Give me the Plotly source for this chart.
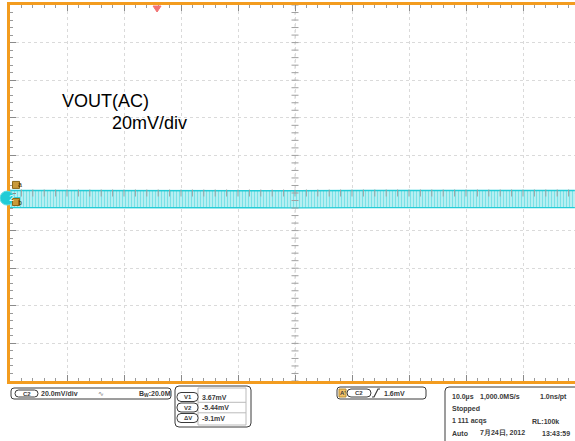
import plotly.graph_objects as go
import numpy as np

W, H = 575, 441

time_us = [-50, -37.5, -25, -12.5, 0, 12.5, 25, 37.5, 49.1]
upper_mV = [1.3, 1.2, 1.3, 1.3, 1.2, 1.3, 1.2, 1.3, 1.3]
lower_mV = [-7.8, -7.9, -7.8, -7.8, -7.9, -7.8, -7.8, -7.9, -7.8]
cursor_labels = ["a", "b"]
cursor_screen_mV = [4.3, -4.8]
trigger_time_us = -24.2
ch2_ground_mV = -2.7

title_lines = ["VOUT(AC)", "20mV/div"]
ch_readout = ["C2", "20.0mV/div", "B<sub>W</sub>:20.0M"]
cursor_names = ["V1", "V2", "ΔV"]
cursor_values = ["3.67mV", "-5.44mV", "-9.1mV"]
trig_readout = ["A'", "C2", "1.6mV"]
acq_rows = [
    [("10.0µs", 450), ("1,000.0MS/s", 478), ("1.0ns/pt", 538)],
    [("Stopped", 450)],
    [("1 111 acqs", 450), ("RL:100k", 530)],
    [("Auto", 450), ("7月24日, 2012", 478), ("13:43:59", 540)],
]

# ---------------- geometry helpers ----------------
X_LEFT, X_CENTER, DIV_X = 10, 295, 57.0
Y_TOP, Y_BOT = 5, 381
US_PER_DIV, MV_PER_DIV = 10, 20
x_range = [-(X_CENTER - X_LEFT) / DIV_X * US_PER_DIV, (W - X_CENTER) / DIV_X * US_PER_DIV]
y_range = [-5 * MV_PER_DIV, 5 * MV_PER_DIV]


def px(x):
    return x / W


def py(y):
    return 1 - y / H


ORANGE = "#F39C1F"
CYAN = "#22CCD6"
GRID = "#DADADA"
DARK = "#3A3A3A"
FONT = "Liberation Sans, Arial, sans-serif"

fig = go.Figure()

# waveform band
fig.add_trace(go.Scatter(x=time_us, y=lower_mV, mode="lines",
                         line=dict(color=CYAN, width=1.4), hoverinfo="skip"))
fig.add_trace(go.Scatter(x=time_us, y=upper_mV, mode="lines", fill="tonexty",
                         fillcolor="rgba(170,238,242,0.6)",
                         fillpattern=dict(shape="|", fgcolor=CYAN, bgcolor="#D2F6F7",
                                          size=3, solidity=0.55),
                         line=dict(color=CYAN, width=1.4), hoverinfo="skip"))

# centre crosshair tick marks
xt = np.arange(x_range[0], x_range[1] + 0.01, US_PER_DIV / 5)
yt = np.arange(y_range[0], y_range[1] + 0.01, MV_PER_DIV / 5)
fig.add_trace(go.Scatter(x=xt, y=[0] * len(xt), mode="markers",
                         marker=dict(symbol="line-ns", size=5, line=dict(color="#A0A0A0", width=1)),
                         hoverinfo="skip"))
fig.add_trace(go.Scatter(x=[0] * len(yt), y=yt, mode="markers",
                         marker=dict(symbol="line-ew", size=5, line=dict(color="#A0A0A0", width=1)),
                         hoverinfo="skip"))

shapes = []
ann = []

# centre crosshair lines
shapes.append(dict(type="line", xref="x", yref="y", x0=0, x1=0, y0=y_range[0], y1=y_range[1],
                   line=dict(color="#D6D6D6", width=1, dash="dot"), layer="below"))
shapes.append(dict(type="line", xref="x", yref="y", x0=x_range[0], x1=x_range[1], y0=0, y1=0,
                   line=dict(color="#D6D6D6", width=1, dash="dot"), layer="below"))

# trigger position marker (top)
tx = X_CENTER + trigger_time_us / US_PER_DIV * DIV_X
shapes.append(dict(type="path", xref="paper", yref="paper",
                   path=f"M {px(tx-4)} {py(6)} L {px(tx+4)} {py(6)} L {px(tx)} {py(12)} Z",
                   fillcolor="#F27272", line=dict(color="#F27272", width=1)))

# channel 2 ground marker
gy = 193 - ch2_ground_mV / MV_PER_DIV * 37.6
shapes.append(dict(type="line", xref="paper", yref="paper", x0=px(7), x1=px(20), y0=py(gy), y1=py(gy),
                   line=dict(color=CYAN, width=2)))
shapes.append(dict(type="circle", xref="paper", yref="paper", x0=px(0), x1=px(14), y0=py(gy - 7), y1=py(gy + 7),
                   fillcolor=CYAN, line=dict(color="#5FDDE3", width=1)))
ann.append(dict(x=px(7), y=py(gy), xref="paper", yref="paper", text="2", showarrow=False,
                font=dict(family=FONT, size=9, color="white")))

# cursor markers
for lab, v in zip(cursor_labels, cursor_screen_mV):
    cy = 193 - v / MV_PER_DIV * 37.6
    shapes.append(dict(type="rect", xref="paper", yref="paper", x0=px(12.5), x1=px(19.5),
                       y0=py(cy - 3.5), y1=py(cy + 3.5), fillcolor="#C99A3A",
                       line=dict(color="#8A6718", width=1)))
    ann.append(dict(x=px(16), y=py(cy), xref="paper", yref="paper", text=lab, showarrow=False,
                    font=dict(family=FONT, size=7, color="#3a2a00")))

# title text
ann.append(dict(x=px(60), y=py(101), xref="paper", yref="paper", xanchor="left", yanchor="middle",
                text=title_lines[0], showarrow=False, font=dict(family=FONT, size=18, color="black")))
ann.append(dict(x=px(110), y=py(123), xref="paper", yref="paper", xanchor="left", yanchor="middle",
                text=title_lines[1], showarrow=False, font=dict(family=FONT, size=18, color="black")))


def rrect(x0, y0, x1, y1, r, color=DARK, width=1, fill="white"):
    p = (f"M {px(x0+r)} {py(y0)} L {px(x1-r)} {py(y0)} Q {px(x1)} {py(y0)} {px(x1)} {py(y0+r)} "
         f"L {px(x1)} {py(y1-r)} Q {px(x1)} {py(y1)} {px(x1-r)} {py(y1)} "
         f"L {px(x0+r)} {py(y1)} Q {px(x0)} {py(y1)} {px(x0)} {py(y1-r)} "
         f"L {px(x0)} {py(y0+r)} Q {px(x0)} {py(y0)} {px(x0+r)} {py(y0)} Z")
    shapes.append(dict(type="path", xref="paper", yref="paper", path=p,
                       line=dict(color=color, width=width), fillcolor=fill))


def txt(x, y, s, size=7, anchor="left", color=DARK, bold=True):
    ann.append(dict(x=px(x), y=py(y), xref="paper", yref="paper", xanchor=anchor, yanchor="middle",
                    text=f"<b>{s}</b>" if bold else s, showarrow=False,
                    font=dict(family=FONT, size=size, color=color)))


# box 1: channel readout
rrect(11, 388, 171, 399, 3)
rrect(15, 390, 38, 397, 3.5)
txt(26.5, 393.7, ch_readout[0], size=6, anchor="center")
txt(39, 393.5, ch_readout[1])
txt(101, 393.5, "∿", size=7, anchor="center", color="#777", bold=False)
txt(137, 393.5, ch_readout[2])

# box 2: cursor readout
rrect(175, 386, 251, 427, 4)
shapes.append(dict(type="rect", xref="paper", yref="paper", x0=px(198), x1=px(246), y0=py(388), y1=py(425),
                   line=dict(color="#BBBBBB", width=1)))
for i, (nm, val) in enumerate(zip(cursor_names, cursor_values)):
    cy = 397 + i * 10.5
    if i > 0:
        shapes.append(dict(type="line", xref="paper", yref="paper", x0=px(198), x1=px(246),
                           y0=py(cy - 5.2), y1=py(cy - 5.2), line=dict(color="#BBBBBB", width=1)))
    rrect(177, cy - 4.5, 198, cy + 4.5, 4)
    txt(187.5, cy + 0.2, nm, size=6, anchor="center")
    txt(200, cy, val)

# box 3: trigger readout
rrect(337, 387, 426, 399, 3)
shapes.append(dict(type="rect", xref="paper", yref="paper", x0=px(339), x1=px(346), y0=py(389), y1=py(397),
                   fillcolor="#F2C46A", line=dict(color="#B88A2A", width=1)))
txt(342.5, 393.2, trig_readout[0], size=6, anchor="center")
rrect(347, 389, 371, 397, 4)
txt(359, 393.2, trig_readout[1], size=6, anchor="center")
shapes.append(dict(type="path", xref="paper", yref="paper",
                   path=f"M {px(372)} {py(397)} L {px(374)} {py(397)} L {px(378)} {py(389)} L {px(380)} {py(389)}",
                   line=dict(color=DARK, width=1.2)))
txt(382, 393.5, trig_readout[2])

# box 4: acquisition readout
rrect(445, 387, 590, 450, 4)
for i, row in enumerate(acq_rows):
    ry = 397 + i * 12
    for s, x in row:
        txt(x, ry, s)

fig.update_layout(
    width=W, height=H, margin=dict(l=0, r=0, t=0, b=0),
    paper_bgcolor="white", plot_bgcolor="white", showlegend=False,
    shapes=shapes, annotations=ann,
    xaxis=dict(domain=[px(X_LEFT), 1], range=x_range, dtick=US_PER_DIV, tick0=0,
               showgrid=True, gridcolor=GRID, griddash="dot", gridwidth=1,
               zeroline=False, showticklabels=False,
               showline=True, linecolor=ORANGE, linewidth=2.5, mirror="ticks",
               ticks="inside", ticklen=6, tickcolor="#8A8A8A", tickwidth=1,
               minor=dict(ticks="inside", dtick=US_PER_DIV / 5, ticklen=3, tickcolor="#9A9A9A", showgrid=False),
               fixedrange=True),
    yaxis=dict(domain=[py(Y_BOT), py(Y_TOP)], range=y_range, dtick=MV_PER_DIV, tick0=0,
               showgrid=True, gridcolor=GRID, griddash="dot", gridwidth=1,
               zeroline=False, showticklabels=False,
               showline=True, linecolor=ORANGE, linewidth=2.5, mirror=False,
               ticks="inside", ticklen=6, tickcolor="#8A8A8A", tickwidth=1,
               minor=dict(ticks="inside", dtick=MV_PER_DIV / 5, ticklen=3, tickcolor="#9A9A9A", showgrid=False),
               fixedrange=True),
)

fig.write_html("out.html", config={"displayModeBar": False},
               post_script="document.body.style.margin='0';document.body.style.overflow='hidden';")
